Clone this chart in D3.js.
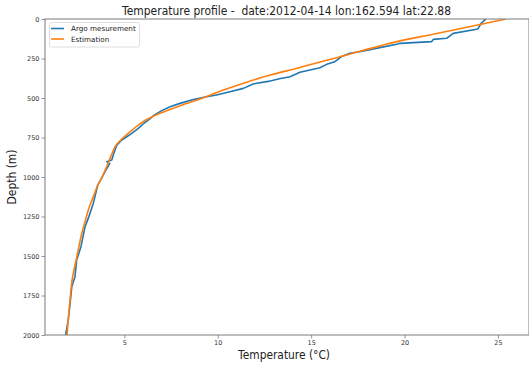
<!DOCTYPE html>
<html><head><meta charset="utf-8">
<script src="https://cdn.jsdelivr.net/npm/d3@7"></script>
<style>body{margin:0;background:#fff}svg{display:block}text{font-family:"DejaVu Sans",sans-serif}</style>
</head><body>
<svg id="c" width="529" height="369"></svg>
<script>
const titleText = "Temperature profile -  date:2012-04-14 lon:162.594 lat:22.88";
const xLabel = "Temperature (°C)";
const yLabel = "Depth (m)";
const seriesNames = ["Argo mesurement", "Estimation"];
const seriesColors = ["#1f77b4", "#ff7f0e"];
const tempTicks = [5, 10, 15, 20, 25];
const depthTicks = [0, 250, 500, 750, 1000, 1250, 1500, 1750, 2000];

const argoDepth = [0, 6, 27, 59, 65, 91, 122, 129, 143, 154, 160, 181, 207, 217, 238, 270, 287, 308, 327, 337, 365, 378, 395, 411, 439, 460, 481, 492, 509, 534, 555, 580, 608, 639, 660, 692, 724, 745, 766, 798, 861, 893, 903, 915, 966, 1051, 1167, 1262, 1315, 1441, 1526, 1631, 1694, 1800, 1906, 2000];
const argoTemp  = [24.35, 24.3, 24.1, 23.94, 23.86, 22.6, 22.25, 21.54, 21.45, 19.75, 19.58, 18.68, 17.6, 17.08, 16.63, 16.27, 15.83, 15.47, 14.76, 14.4, 13.87, 13.3, 12.7, 11.9, 11.37, 10.65, 9.94, 9.4, 8.7, 7.98, 7.45, 7.0, 6.6, 6.3, 6.05, 5.75, 5.4, 5.13, 4.86, 4.6, 4.41, 4.33, 4.06, 4.22, 3.97, 3.58, 3.34, 3.07, 2.9, 2.68, 2.45, 2.36, 2.19, 2.1, 2.0, 1.86];

const estDepth = [0, 40, 100, 140, 170, 240, 310, 355, 400, 450, 500, 550, 600, 650, 700, 750, 800, 850, 950, 1000, 1060, 1100, 1200, 1270, 1350, 1500, 1650, 1800, 1900, 2000];
const estTemp  = [25.42, 23.85, 21.4, 19.7, 18.7, 16.5, 14.3, 12.8, 11.55, 10.3, 9.2, 7.95, 6.85, 6.0, 5.45, 4.95, 4.55, 4.35, 4.0, 3.82, 3.55, 3.42, 3.1, 2.93, 2.74, 2.47, 2.21, 2.08, 2.0, 1.94];

const svg = d3.select("#c");
const L = 45, R = 529, T = 19, B = 335;
const x = d3.scaleLinear().domain([0.756, 0.756 + (R - L) / 18.685]).range([L, R]);
const y = d3.scaleLinear().domain([0, 2000]).range([T, B]);

svg.append("defs").append("clipPath").attr("id", "clip")
  .append("rect").attr("x", L).attr("y", T).attr("width", R - L).attr("height", B - T);

const lineRaw = d3.line().x(d => x(d[1])).y(d => y(d[0]));
const lineSmooth = d3.line().x(d => x(d[1])).y(d => y(d[0])).curve(d3.curveMonotoneY);
const series = [
  argoDepth.map((d, i) => [d, argoTemp[i]]),
  estDepth.map((d, i) => [d, estTemp[i]])
];
const g = svg.append("g").attr("clip-path", "url(#clip)");
series.forEach((s, i) => {
  g.append("path").datum(s).attr("d", i === 0 ? lineRaw : lineSmooth)
    .attr("fill", "none").attr("stroke", seriesColors[i])
    .attr("stroke-width", 1.6).attr("stroke-linejoin", "round");
});

const spineColor = "#7a7a7a";
const xAxis = svg.append("g").attr("transform", `translate(0,${B})`)
  .call(d3.axisBottom(x).tickValues(tempTicks).tickSize(3.5).tickPadding(2).tickFormat(d3.format("d")));
const yAxis = svg.append("g").attr("transform", `translate(${L},0)`)
  .call(d3.axisLeft(y).tickValues(depthTicks).tickSize(3.5).tickPadding(2).tickFormat(d3.format("d")));
[xAxis, yAxis].forEach(a => {
  a.select(".domain").remove();
  a.selectAll(".tick line").attr("stroke", spineColor).attr("stroke-width", 0.8);
  a.selectAll(".tick text").attr("fill", "#333").style("font-size", "6.5px").style("font-family", "DejaVu Sans");
});

// spines
svg.append("rect").attr("x", L).attr("y", T).attr("width", R - L).attr("height", B - T)
  .attr("fill", "none").attr("stroke", spineColor).attr("stroke-width", 1);

// title
svg.append("text").attr("x", (L + 528) / 2).attr("y", 15).attr("text-anchor", "middle")
  .style("font-size", "11.4px").style("white-space", "pre").attr("xml:space", "preserve").attr("fill", "#222")
  .attr("textLength", 329).attr("lengthAdjust", "spacingAndGlyphs").text(titleText);
// x label
svg.append("text").attr("x", 284).attr("y", 359).attr("text-anchor", "middle")
  .style("font-size", "12px").attr("fill", "#222")
  .attr("textLength", 92).attr("lengthAdjust", "spacingAndGlyphs").text(xLabel);
// y label
svg.append("text").attr("transform", "translate(16,177) rotate(-90)").attr("text-anchor", "middle")
  .style("font-size", "11.5px").attr("fill", "#222")
  .attr("textLength", 55).attr("lengthAdjust", "spacingAndGlyphs").text(yLabel);

// legend
const lg = svg.append("g");
lg.append("rect").attr("x", 49.5).attr("y", 22.5).attr("width", 90).attr("height", 24.5)
  .attr("rx", 2).attr("fill", "#fff").attr("fill-opacity", 0.8).attr("stroke", "#d5d5d5").attr("stroke-width", 0.8);
seriesNames.forEach((n, i) => {
  const yy = 28.5 + i * 10.5;
  lg.append("line").attr("x1", 51).attr("x2", 64).attr("y1", yy).attr("y2", yy)
    .attr("stroke", seriesColors[i]).attr("stroke-width", 1.6);
  lg.append("text").attr("x", 71).attr("y", yy + 2.5).style("font-size", "7.2px").attr("fill", "#222")
    .text(n);
});
</script>
</body></html>
